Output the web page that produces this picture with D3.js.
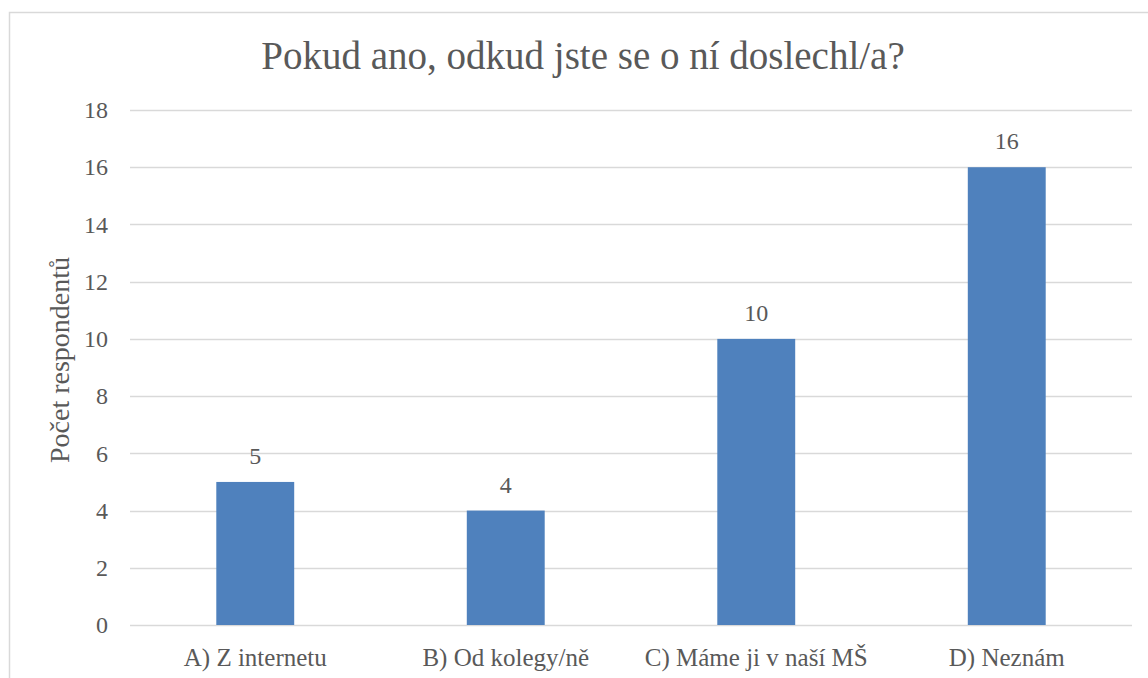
<!DOCTYPE html>
<html>
<head>
<meta charset="utf-8">
<script src="https://cdn.jsdelivr.net/npm/d3@7"></script>
<style>
    body { margin: 0; background: #fff; }
    svg text { font-family: "Liberation Serif", "DejaVu Serif", serif; fill: #595959; }
</style>
</head>
<body>
<script>
(function () {

    //chart data
    var categories = ["A) Z internetu", "B) Od kolegy/ně", "C) Máme ji v naší MŠ", "D) Neznám"];
    var values = [5, 4, 10, 16];
    var yTicks = [0, 2, 4, 6, 8, 10, 12, 14, 16, 18];
    var chartTitle = "Pokud ano, odkud jste se o ní doslechl/a?";
    var yTitle = "Počet respondentů";

    var width = 1148, height = 678;
    var margin = {left: 130, right: 16, top: 110, bottom: 53};
    var serif = "'Liberation Serif', 'DejaVu Serif', serif";

    var svg = d3.select("body")
        .append("svg")
        .attr("width", width)
        .attr("height", height);

    //outer chart frame
    svg.append("rect")
        .attr("x", 9.5)
        .attr("y", 12.5)
        .attr("width", width + 20)
        .attr("height", height + 20)
        .attr("fill", "none")
        .attr("stroke", "#d9d9d9")
        .attr("stroke-width", 1.5);

    var x = d3.scaleBand()
        .domain(categories)
        .range([margin.left, width - margin.right])
        .paddingInner(0.689)
        .paddingOuter(0.3445);

    var y = d3.scaleLinear()
        .domain([0, 18])
        .range([height - margin.bottom, margin.top]);

    //gridlines
    svg.append("g")
        .selectAll("line")
        .data(yTicks)
        .enter()
        .append("line")
        .attr("x1", margin.left)
        .attr("x2", width - margin.right)
        .attr("y1", function (d) { return Math.round(y(d)) + 0.5; })
        .attr("y2", function (d) { return Math.round(y(d)) + 0.5; })
        .attr("stroke", "#d9d9d9")
        .attr("stroke-width", 1.3);

    //y axis labels
    var yAxis = d3.axisLeft(y).tickValues(yTicks).tickSize(0).tickPadding(22);
    var yg = svg.append("g")
        .attr("transform", "translate(" + margin.left + ",0)")
        .call(yAxis);
    yg.select(".domain").remove();
    yg.attr("font-family", serif).attr("font-size", 24);
    yg.selectAll("text")
        .style("font-family", serif)
        .style("font-size", "24px")
        .attr("fill", "#595959");

    //bars
    svg.selectAll(".bar")
        .data(values)
        .enter()
        .append("rect")
        .attr("class", "bar")
        .attr("x", function (d, i) { return x(categories[i]); })
        .attr("width", x.bandwidth())
        .attr("y", function (d) { return y(d); })
        .attr("height", function (d) { return y(0) - y(d); })
        .attr("fill", "#4f81bd");

    //value labels
    svg.selectAll(".val")
        .data(values)
        .enter()
        .append("text")
        .attr("class", "val")
        .attr("text-anchor", "middle")
        .attr("x", function (d, i) { return x(categories[i]) + x.bandwidth() / 2; })
        .attr("y", function (d) { return y(d) - 18; })
        .style("font-size", "24px")
        .text(function (d) { return d; });

    //x axis labels
    var xAxis = d3.axisBottom(x).tickSize(0).tickPadding(23);
    var xg = svg.append("g")
        .attr("transform", "translate(0," + (height - margin.bottom) + ")")
        .call(xAxis);
    xg.select(".domain").remove();
    xg.attr("font-family", serif).attr("font-size", 25);
    xg.selectAll("text")
        .style("font-family", serif)
        .style("font-size", "25px")
        .attr("fill", "#595959");

    //title
    svg.append("text")
        .attr("x", 583)
        .attr("y", 69)
        .attr("text-anchor", "middle")
        .style("font-size", "39px")
        .text(chartTitle);

    //y axis title
    svg.append("text")
        .attr("transform", "translate(69,360) rotate(-90)")
        .attr("text-anchor", "middle")
        .style("font-size", "28px")
        .text(yTitle);

})();
</script>
</body>
</html>
